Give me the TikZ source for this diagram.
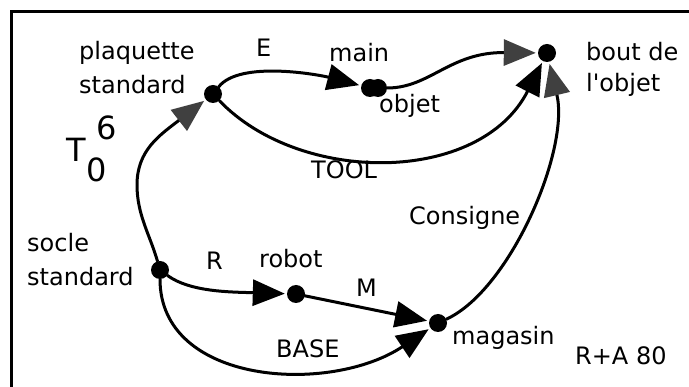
\documentclass[tikz,border=0pt]{standalone}
\usepackage{fontspec}
\setmainfont{DejaVu Sans}
\usetikzlibrary{arrows.meta}
\definecolor{tipgray}{HTML}{404040}

\begin{document}
\begin{tikzpicture}[x=1pt,y=-1pt,
  dot/.style={circle,fill=black,inner sep=0pt,minimum size=18pt},
  lab/.style={inner sep=0pt,font=\fontsize{24}{34}\selectfont},
  big/.style={inner sep=0pt,font=\fontsize{32}{38}\selectfont},
  flow/.style={line width=3pt,line cap=round,shorten >=2pt,-{Triangle[length=32pt,width=26pt]}},
  grayflow/.style={flow,-{Triangle[length=32pt,width=26pt,color=tipgray]}}]

 \useasboundingbox (0,0) rectangle (689,387);
 \clip (0,0) rectangle (689,387);

 %Frame
 \draw[line width=3pt] (11,420) -- (11,11.5) -- (720,11.5);

 %Dots
 \node (pl) [dot] at (213,94) {};
 \node (main) [dot] at (370,88) {};
 \node (obj) [dot] at (378,88) {};
 \node (bo) [dot] at (547,53) {};
 \node (so) [dot] at (160,270) {};
 \node (ro) [dot] at (296,294) {};
 \node (ma) [dot] at (438,323) {};

 %Names
 \node (plaq) [lab,anchor=north west,align=left] at (79,41) {plaquette\\standard};
 \node (socle) [lab,anchor=north west,align=left] at (27,233) {socle\\standard};
 \node (bout) [lab,anchor=north west,align=left] at (586,42) {bout de\\[-3pt]l\textquotesingle objet};
 \node (mainlab) [lab,anchor=base west] at (329,62) {main};
 \node (objlab) [lab,anchor=base west] at (379,113) {objet};
 \node (robotlab) [lab,anchor=base west] at (259,268) {robot};
 \node (maglab) [lab,anchor=base west] at (452,345) {magasin};
 \node (ra) [lab,anchor=base west] at (575,365) {R+A 80};

 %Labels of arcs
 \node (E) [lab,anchor=base west] at (256,57) {E};
 \node (R) [lab,anchor=base west] at (206,270) {R};
 \node (M) [lab,anchor=base west] at (356,297) {M};
 \node (tool) [lab,anchor=base west] at (311,179) {TOOL};
 \node (consigne) [lab,anchor=base west] at (409,225) {Consigne};
 \node (base) [lab,anchor=base west] at (276,358) {BASE};
 \node (T) [big,anchor=base west] at (66,162) {T};
 \node (six) [big,anchor=base west] at (96,140) {6};
 \node (zero) [big,anchor=base west] at (86,182) {0};

 %Arcs
 \draw[grayflow] (so) .. controls (150,235) and (137,215) .. (137,185)
   .. controls (137,150) and (160,135) .. (pl);
 \draw[flow] (pl) .. controls (240,60) and (320,75) .. (main);
 \draw[grayflow] (obj) .. controls (430,88) and (450,52) .. (bo);
 \draw[flow] (pl) .. controls (300,185) and (480,185) .. (bo);
 \draw[grayflow] (ma) .. controls (510,290) and (570,150) .. (bo);
 \draw[flow] (so) .. controls (190,292) and (230,292) .. (ro);
 \draw[flow] (ro) -- (ma);
 \draw[flow] (so) .. controls (160,385) and (330,395) .. (ma);

\end{tikzpicture}
\end{document}
